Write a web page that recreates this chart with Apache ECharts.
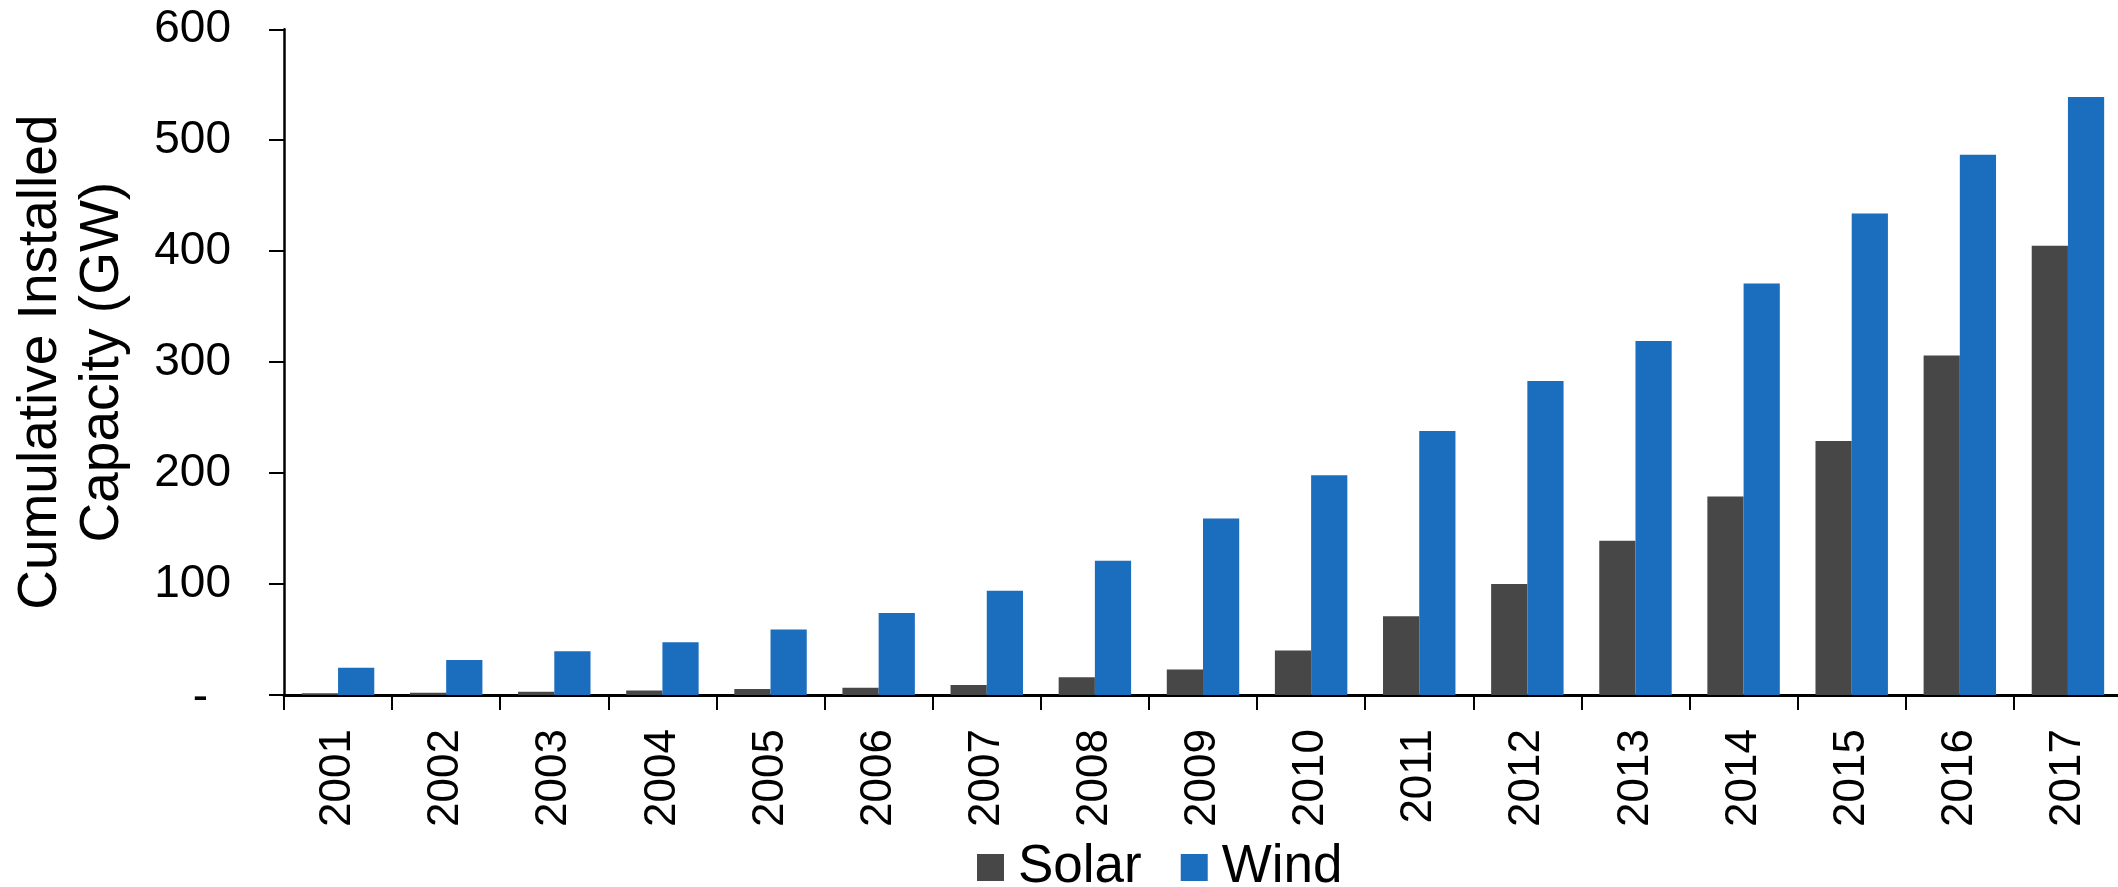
<!DOCTYPE html>
<html>
<head>
<meta charset="utf-8">
<title>Cumulative Installed Capacity</title>
<script src="https://cdn.jsdelivr.net/npm/echarts@6/dist/echarts.min.js"></script>
<style>
  html, body { margin: 0; padding: 0; background: #fff; }
  #chart { width: 2118px; height: 887px; }
</style>
</head>
<body>
<div id="chart"></div>
<script>
// Cumulative installed capacity by year, GW
const years = ['2001', '2002', '2003', '2004', '2005', '2006', '2007', '2008', '2009',
               '2010', '2011', '2012', '2013', '2014', '2015', '2016', '2017'];
const solar = [1.5, 2, 3, 4, 5.5, 6.5, 9, 16, 23, 40, 71, 100, 139, 179, 229, 306, 405];
const wind = [24.5, 31.5, 39.5, 47.5, 59, 74, 94, 121, 159, 198, 238, 283, 319, 371, 434, 487, 539];
const yTickLabels = ['-', '100', '200', '300', '400', '500', '600'];

const labelFont = "'Liberation Sans', Arial, sans-serif";

const chart = echarts.init(document.getElementById('chart'), null, { renderer: 'canvas' });

chart.setOption({
  animation: false,
  backgroundColor: '#ffffff',
  grid: {
    left: 284,
    top: 29.3,
    width: 1838,
    height: 665.7,
    containLabel: false,
    outerBoundsMode: 'none'
  },
  legend: {
    data: ['Solar', 'Wind'],
    left: 972,
    top: 836,
    icon: 'rect',
    itemWidth: 27,
    itemHeight: 27,
    itemGap: 39,
    textStyle: {
      fontFamily: labelFont,
      fontSize: 53,
      color: '#000',
      lineHeight: 27,
      padding: [0, 0, 0, 9]
    }
  },
  xAxis: {
    type: 'category',
    data: years,
    axisLine: { show: true, lineStyle: { color: '#000', width: 3 } },
    axisTick: { show: true, alignWithLabel: false, length: 15, lineStyle: { color: '#000', width: 2 } },
    axisLabel: {
      interval: 0,
      rotate: 90,
      margin: 34,
      fontFamily: labelFont,
      fontSize: 44,
      color: '#000'
    },
    splitLine: { show: false }
  },
  yAxis: {
    type: 'value',
    min: 0,
    max: 600,
    interval: 100,
    name: 'Cumulative Installed\nCapacity (GW)',
    nameLocation: 'middle',
    nameRotate: 90,
    nameGap: 150,
    nameTextStyle: {
      fontFamily: labelFont,
      fontSize: 55,
      lineHeight: 62,
      color: '#000'
    },
    axisLine: { show: true, lineStyle: { color: '#000', width: 2.5 } },
    axisTick: { show: true, length: 15, lineStyle: { color: '#000', width: 2 } },
    axisLabel: {
      margin: 53,
      fontFamily: labelFont,
      fontSize: 46,
      color: '#000',
      formatter: function (v) {
        const label = yTickLabels[Math.round(v / 100)];
        return v === 0 ? '{d|' + label + '}' : label;
      },
      rich: {
        d: {
          fontFamily: labelFont,
          fontSize: 46,
          color: '#000',
          padding: [6, 23, 0, 0]
        }
      }
    },
    splitLine: { show: false }
  },
  series: [
    {
      name: 'Solar',
      type: 'bar',
      data: solar,
      barGap: '0%',
      barCategoryGap: '33%',
      itemStyle: { color: '#474747' }
    },
    {
      name: 'Wind',
      type: 'bar',
      data: wind,
      barGap: '0%',
      barCategoryGap: '33%',
      itemStyle: { color: '#1B6DBE' }
    }
  ]
});
</script>
</body>
</html>
